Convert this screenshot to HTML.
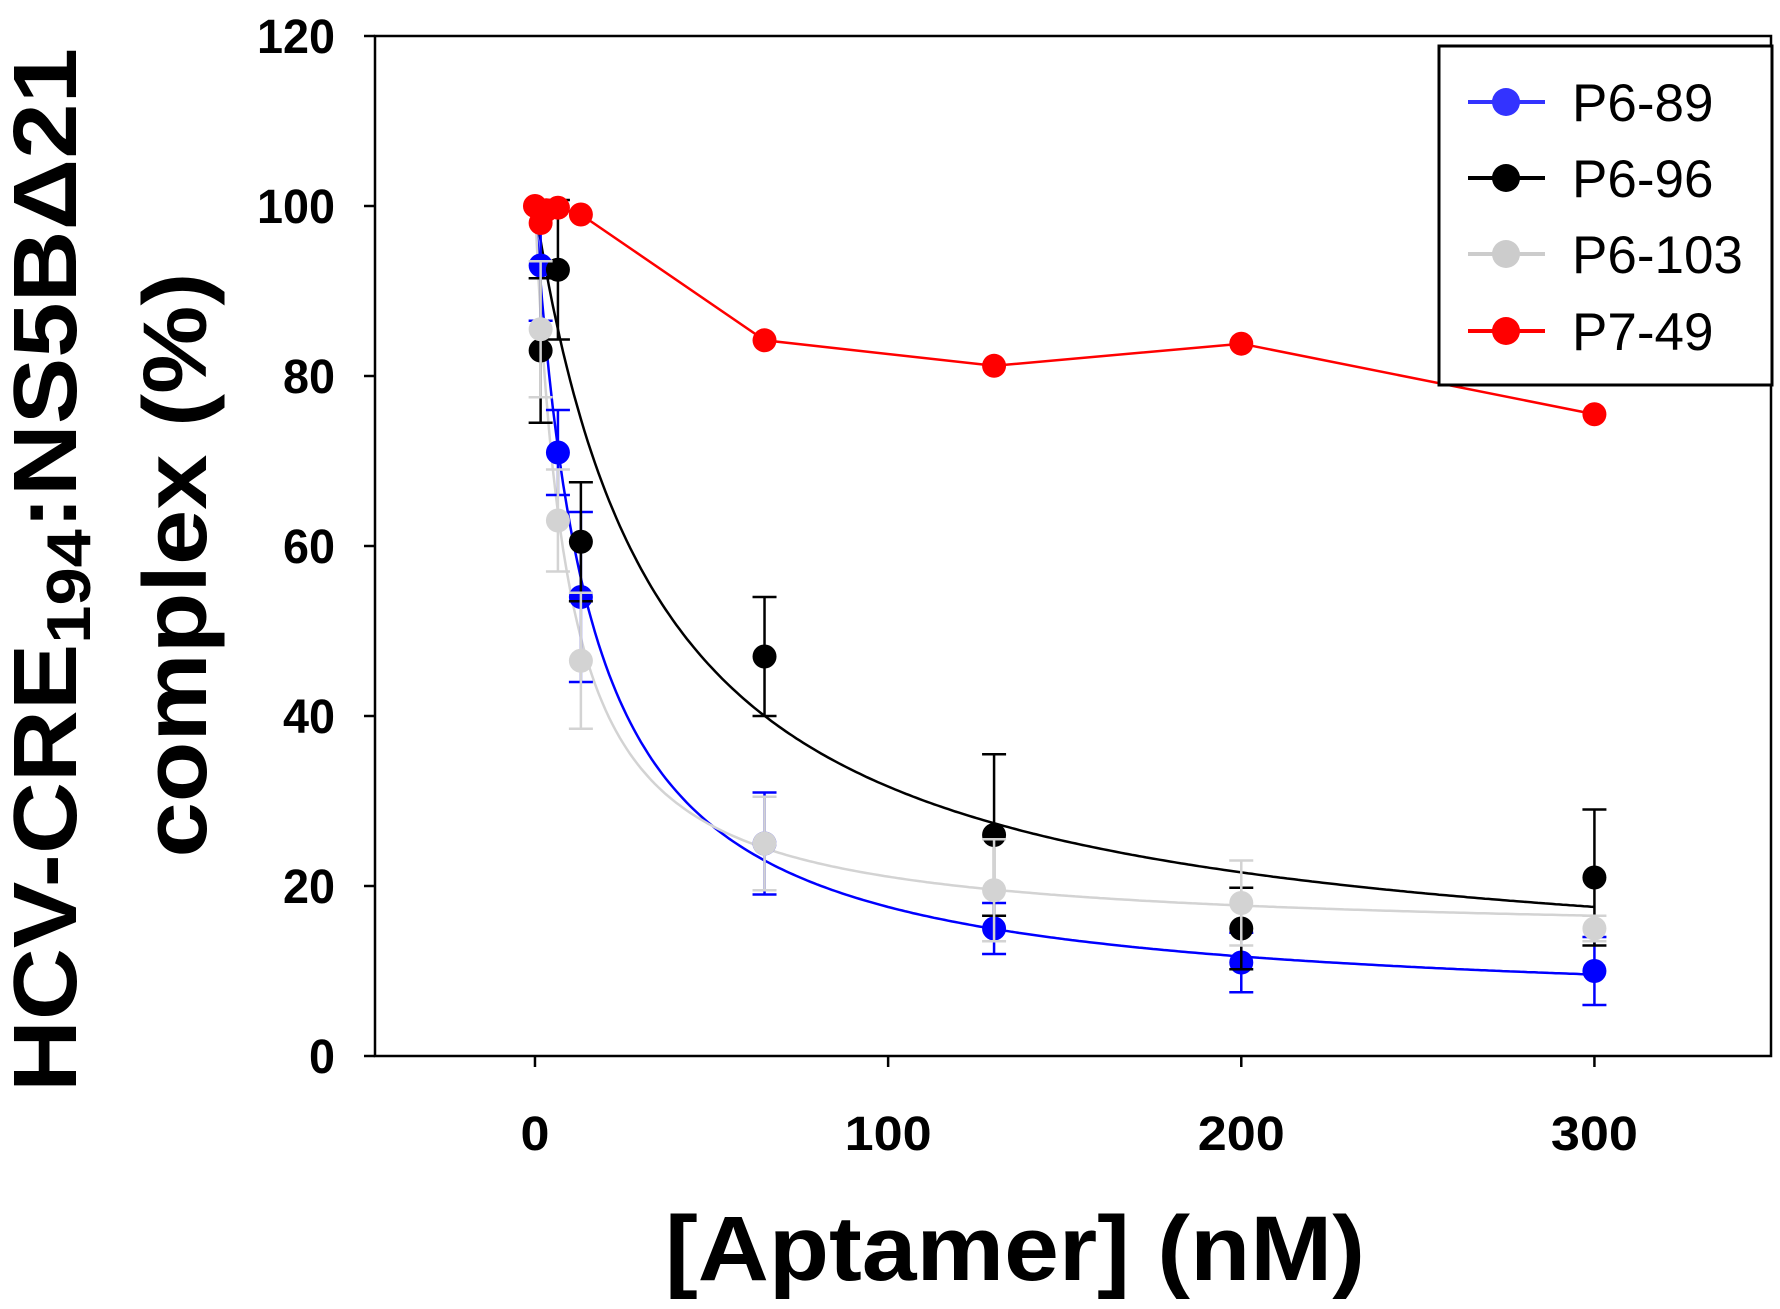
<!DOCTYPE html>
<html><head><meta charset="utf-8"><style>
html,body{margin:0;padding:0;background:#fff;}
svg{display:block;font-family:"Liberation Sans",sans-serif;}
</style></head><body>
<svg id="chart" width="1780" height="1309" viewBox="0 0 1780 1309">
<g id="axes"></g>
<g id="curves"></g>
<g id="marks"></g>
<text x="1015" y="1280" text-anchor="middle" font-size="92" font-weight="bold" textLength="700" lengthAdjust="spacingAndGlyphs">[Aptamer] (nM)</text>
<text transform="translate(76,570) rotate(-90)" text-anchor="middle" font-size="90" font-weight="bold" textLength="1044" lengthAdjust="spacingAndGlyphs">HCV-CRE<tspan font-size="62" dy="14">194</tspan><tspan dy="-14">:NS5BΔ21</tspan></text>
<text transform="translate(206,565) rotate(-90)" text-anchor="middle" font-size="90" font-weight="bold" textLength="585" lengthAdjust="spacingAndGlyphs">complex (%)</text>
<g id="legend"></g>
</svg>
<script>
const xTicks=[0,100,200,300];
const yTicks=[0,20,40,60,80,100,120];
const seriesNames=["P6-89","P6-96","P6-103","P7-49"];
const seriesColors=["#0000ff","#000000","#d3d3d3","#ff0000"];
const legendColors=["#3333ff","#000000","#cccccc","#ff0000"];
const x89=[1.6,6.5,13,65,130,200,300];
const y89=[93,71,54,25,15,11,10];
const e89=[6.5,5,10,6,3,3.5,4];
const x96=[1.6,6.5,13,65,130,200,300];
const y96=[83,92.5,60.5,47,26,15,21];
const e96=[8.5,8.2,7,7,9.5,4.8,8];
const x103=[1.6,6.5,13,65,130,200,300];
const y103=[85.5,63,46.5,25,19.5,18,15];
const e103=[8,6,8,5.5,6,5,1.5];
const x749=[0,1.6,3.2,6.5,13,65,130,200,300];
const y749=[100,98,99.5,99.8,99,84.2,81.2,83.8,75.5];
const fitMin=[5,8,14];
const fitK=[15.2,34.7,9];

const NS="http://www.w3.org/2000/svg";
const L=375,R=1771,T=36,B=1056,XMIN=-45.3,XMAX=350,YMIN=0,YMAX=120;
function sx(v){return L+(v-XMIN)/(XMAX-XMIN)*(R-L);}
function sy(v){return B-(v-YMIN)/(YMAX-YMIN)*(B-T);}
function mk(tag,attrs,parent){const e=document.createElementNS(NS,tag);for(const k in attrs)e.setAttribute(k,attrs[k]);parent.appendChild(e);return e;}

const axes=document.getElementById('axes');
const frame=mk('rect',{x:L,y:T,width:R-L,height:B-T,fill:'none',stroke:'#000','stroke-width':2.5},axes);


yTicks.forEach(t=>{
  const ln=mk('line',{x1:L-11,x2:L,y1:sy(t),y2:sy(t),stroke:'#000','stroke-width':2.5},axes);
  
  
  const tx=mk('text',{x:L-40,y:sy(t)+17,'text-anchor':'end','font-size':48,'font-weight':'bold',textLength:String(t).length*26,lengthAdjust:'spacingAndGlyphs'},axes);
  tx.textContent=t;
  
  
});
xTicks.forEach(t=>{
  const ln=mk('line',{x1:sx(t),x2:sx(t),y1:B,y2:B+11,stroke:'#000','stroke-width':2.5},axes);
  
  
  const tx=mk('text',{x:sx(t),y:1150,'text-anchor':'middle','font-size':48,'font-weight':'bold',textLength:String(t).length*29,lengthAdjust:'spacingAndGlyphs'},axes);
  tx.textContent=t;
  
  
});

const curves=document.getElementById('curves');
for(let s=0;s<3;s++){
  let d='';
  for(let x=0;x<=300;x+=1){
    const y=fitMin[s]+(100-fitMin[s])*fitK[s]/(fitK[s]+x);
    d+=(x?'L':'M')+sx(x).toFixed(1)+','+sy(y).toFixed(1);
  }
  const p=mk('path',{d:d,fill:'none',stroke:seriesColors[s],'stroke-width':2.5},curves);
  
  
}

const marks=document.getElementById('marks');
const sets=[[x89,y89,e89,0],[x96,y96,e96,1],[x103,y103,e103,2]];
sets.forEach(([xs,ys,es,s])=>{
  const g=mk('g',{},marks);
  
  
  xs.forEach((x,i)=>{
    const cx=sx(x),yt=sy(ys[i]+es[i]),yb=sy(ys[i]-es[i]);
    const eb=mk('path',{d:`M${cx},${yt}L${cx},${yb}M${cx-12},${yt}L${cx+12},${yt}M${cx-12},${yb}L${cx+12},${yb}`,stroke:seriesColors[s],'stroke-width':2.5,fill:'none'},g);
    
    
    const c=mk('circle',{cx:cx,cy:sy(ys[i]),r:12,fill:seriesColors[s]},g);
    
    
  });
});
const gr=mk('g',{},marks);


const rl=mk('polyline',{points:x749.map((x,i)=>sx(x)+','+sy(y749[i])).join(' '),fill:'none',stroke:'#ff0000','stroke-width':2.5},gr);


x749.forEach((x,i)=>{
  const c=mk('circle',{cx:sx(x),cy:sy(y749[i]),r:12,fill:'#ff0000'},gr);
  
  
});

const lg=document.getElementById('legend');
const box=mk('rect',{x:1439,y:46,width:333,height:339,fill:'#fff',stroke:'#000','stroke-width':3},lg);


const ly=[102,178,254,331];
seriesNames.forEach((n,i)=>{
  const g=mk('g',{},lg);
  
  
  mk('line',{x1:1468,x2:1545,y1:ly[i],y2:ly[i],stroke:legendColors[i],'stroke-width':4},g);
  mk('circle',{cx:1506,cy:ly[i],r:14,fill:legendColors[i]},g);
  const t=mk('text',{x:1572,y:ly[i]+19,'font-size':53},g);
  t.textContent=n;
});
</script>
</body></html>
